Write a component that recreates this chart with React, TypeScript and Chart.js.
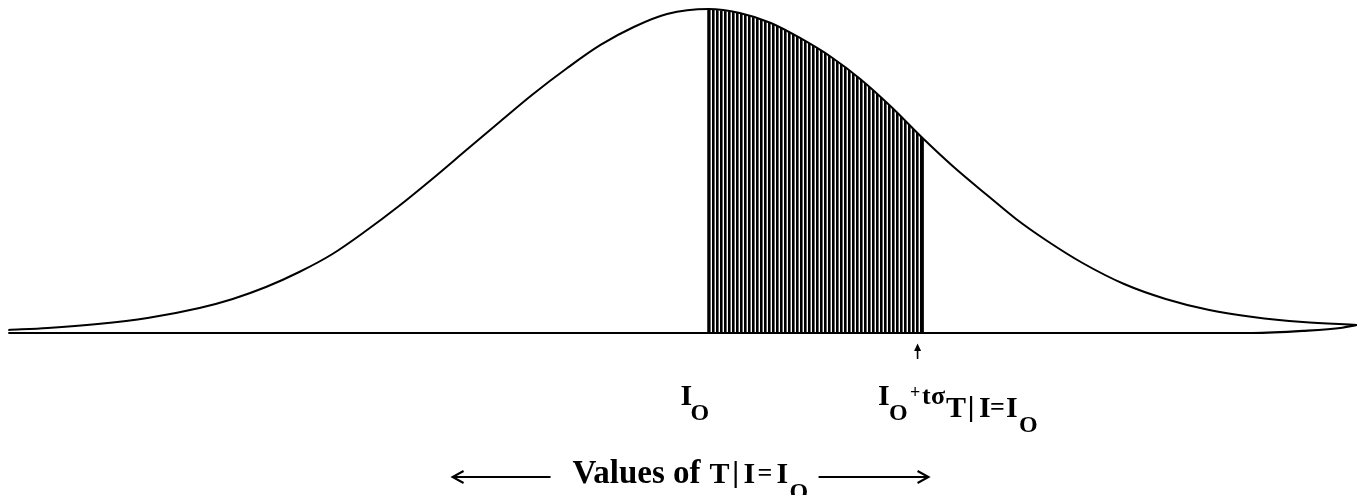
import React, { useEffect, useRef } from "react";
import { Chart, registerables } from "chart.js";

Chart.register(...registerables);

// Curve of T | I = I_O, x in σ units from I_O, y as density
const curveX = [-3.37, -3.18, -2.94, -2.70, -2.45, -2.29, -2.13, -1.97, -1.81, -1.65, -1.49, -1.33, -1.16, -1.00, -0.85, -0.68, -0.52, -0.36, -0.20, 0, 0.15, 0.30, 0.44, 0.59, 0.73, 0.88, 1.03, 1.18, 1.34, 1.48, 1.63, 1.80, 2.00, 2.20, 2.41, 2.62, 2.86, 3.12];
const curveY = [0.0037, 0.0062, 0.0111, 0.0185, 0.0308, 0.0419, 0.0566, 0.0751, 0.0973, 0.1256, 0.1564, 0.1897, 0.2266, 0.2611, 0.2931, 0.3263, 0.3547, 0.3768, 0.3928, 0.3990, 0.3941, 0.3818, 0.3633, 0.3399, 0.3128, 0.2783, 0.2401, 0.2044, 0.1699, 0.1404, 0.1133, 0.0862, 0.0603, 0.0419, 0.0283, 0.0197, 0.0135, 0.0099];
// Baseline (axis) as drawn; it bends up at the right end to meet the curve
const baselineX = [-3.37, 2.62, 2.86, 3.05, 3.12];
const baselineY = [0, 0, 0.0025, 0.0065, 0.0099];
const meanValue = 0; // I_O
const tValue = 1.03; // I_O + t σ

const SERIF = '"Liberation Serif", "Times New Roman", serif';

function yAt(x: number): number {
  const i = curveX.indexOf(x);
  return i >= 0 ? curveY[i] : 0;
}

const labelsPlugin = {
  id: "labels",
  afterDraw(chart: any) {
    const ctx: CanvasRenderingContext2D = chart.ctx;
    const xs = chart.scales.x;
    const x0 = xs.getPixelForValue(meanValue);
    const xt = xs.getPixelForValue(tValue);
    ctx.save();
    ctx.fillStyle = "#000";
    ctx.strokeStyle = "#000";
    ctx.textBaseline = "alphabetic";
    ctx.textAlign = "left";
    const put = (t: string, size: number, bold: boolean, x: number, y: number) => {
      ctx.font = `${bold ? "bold " : ""}${size}px ${SERIF}`;
      ctx.fillText(t, x, y);
    };

    // small arrow below t
    const ax = xt - 5;
    ctx.lineWidth = 1.6;
    ctx.beginPath();
    ctx.moveTo(ax, 349);
    ctx.lineTo(ax, 359);
    ctx.stroke();
    ctx.beginPath();
    ctx.moveTo(ax, 343.5);
    ctx.lineTo(ax - 3.5, 351);
    ctx.lineTo(ax + 3.5, 351);
    ctx.closePath();
    ctx.fill();

    // I_O label
    const s1 = x0 - 28;
    put("I", 30, true, s1, 405);
    put("O", 24, true, s1 + 10, 420);

    // I_O + t σ_{T|I=I_O}
    const s2 = xt - 44.6;
    put("I", 30, true, s2, 405);
    put("O", 24, true, s2 + 11, 420);
    put("+", 18, true, s2 + 32, 398);
    put("t", 26, true, s2 + 44, 404);
    put("σ", 26, true, s2 + 53, 404);
    put("T", 30, true, s2 + 68, 417);
    ctx.fillRect(s2 + 92, 396, 2.2, 26);
    put("I", 30, true, s2 + 101, 417);
    put("=", 26, true, s2 + 112, 415);
    put("I", 30, true, s2 + 128, 417);
    put("O", 24, true, s2 + 141, 432);

    // bottom caption with arrows
    const by = 477;
    ctx.lineWidth = 2;
    ctx.beginPath();
    ctx.moveTo(x0 - 256, by);
    ctx.lineTo(x0 - 158, by);
    ctx.moveTo(x0 - 245, by - 6);
    ctx.lineTo(x0 - 256, by);
    ctx.lineTo(x0 - 245, by + 6);
    ctx.stroke();
    ctx.beginPath();
    ctx.moveTo(x0 + 110, by);
    ctx.lineTo(x0 + 220, by);
    ctx.moveTo(x0 + 209, by - 6);
    ctx.lineTo(x0 + 220, by);
    ctx.lineTo(x0 + 209, by + 6);
    ctx.stroke();

    const c = x0 - 136;
    put("Values of", 33, true, c, 483);
    put("T", 30, true, c + 137, 483);
    ctx.fillRect(c + 162, 461, 2.2, 27);
    put("I", 30, true, c + 171, 483);
    put("=", 26, true, c + 185, 481);
    put("I", 30, true, c + 204, 483);
    put("O", 24, true, c + 217, 499);
    ctx.restore();
  },
};

export default function App() {
  const ref = useRef<HTMLCanvasElement | null>(null);
  useEffect(() => {
    document.body.style.margin = "0";
    const canvas = ref.current;
    if (!canvas) return;

    const pc = document.createElement("canvas");
    pc.width = 4;
    pc.height = 4;
    const pctx = pc.getContext("2d")!;
    pctx.fillStyle = "#fff";
    pctx.fillRect(0, 0, 4, 4);
    pctx.fillStyle = "#000";
    pctx.fillRect(0, 0, 2, 4);
    pctx.fillStyle = "#666";
    pctx.fillRect(2, 0, 1, 4);
    const pattern = canvas.getContext("2d")!.createPattern(pc, "repeat")!;

    const curve = curveX.map((x, i) => ({ x, y: curveY[i] }));
    const base = baselineX.map((x, i) => ({ x, y: baselineY[i] }));
    const shaded = [
      { x: meanValue, y: 0 },
      ...curve.filter((p) => p.x >= meanValue && p.x <= tValue),
      { x: tValue, y: 0 },
    ];
    const edge0 = [{ x: meanValue, y: 0 }, { x: meanValue, y: yAt(meanValue) }];
    const edgeT = [{ x: tValue, y: 0 }, { x: tValue, y: yAt(tValue) }];

    const common = { pointRadius: 0, pointHoverRadius: 0, clip: false as any, borderColor: "#000" };
    const chart = new Chart(canvas, {
      type: "line",
      data: {
        datasets: [
          { ...common, data: curve, borderWidth: 2, cubicInterpolationMode: "monotone", fill: false },
          { ...common, data: base, borderWidth: 2.2, cubicInterpolationMode: "monotone", fill: false },
          { ...common, data: edge0, borderWidth: 2.6, tension: 0, fill: false },
          { ...common, data: edgeT, borderWidth: 2.6, tension: 0, fill: false },
          { ...common, data: shaded, borderWidth: 0, tension: 0, fill: "origin", backgroundColor: pattern as any },
        ],
      },
      options: {
        animation: false,
        responsive: false,
        events: [],
        layout: { padding: { left: 0, right: 0, top: 8.19, bottom: 145.76 } },
        scales: {
          x: { type: "linear", min: -3.41, max: 3.14, display: false },
          y: { type: "linear", min: -0.02, max: 0.4, display: false },
        },
        plugins: { legend: { display: false }, tooltip: { enabled: false } },
      },
      plugins: [labelsPlugin],
    });
    return () => chart.destroy();
  }, []);

  return (
    <div style={{ width: 1361, height: 495, background: "#fff" }}>
      <canvas ref={ref} width={1361} height={495} style={{ display: "block" }} />
    </div>
  );
}
